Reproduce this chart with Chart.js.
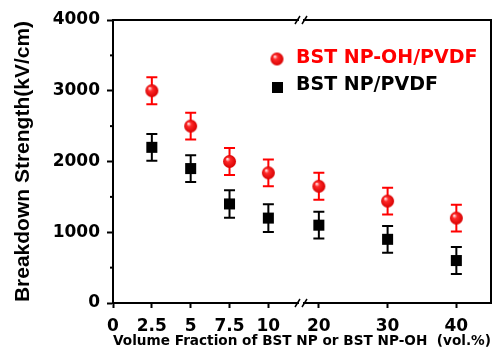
<!DOCTYPE html>
<html>
<head>
<meta charset="utf-8">
<script src="https://cdn.jsdelivr.net/npm/chart.js@4.4.1/dist/chart.umd.min.js"></script>
<style>
    html, body { margin: 0; padding: 0; background: #fff; }
</style>
</head>
<body>
<canvas id="myChart" width="499" height="349"></canvas>
<script>
// data
const fractions = [2.5, 5, 7.5, 10, 20, 30, 40];
const ohValues = [3000, 2500, 2000, 1840, 1650, 1440, 1200];
const ohErrors = [190, 190, 190, 190, 190, 190, 190];
const npValues = [2200, 1900, 1400, 1200, 1100, 900, 600];
const npErrors = [190, 190, 195, 195, 190, 190, 190];
const xTickLabels = [0, 2.5, 5, 7.5, 10, 20, 30, 40];
const seriesNames = ['BST NP-OH/PVDF', 'BST NP/PVDF'];

// broken x axis: 0-10 at full scale, 20-40 compressed
const breakAt = 10, resumeAt = 20, resumePos = 13.25, squeeze = 0.4425;
function toAxis(v) {
    return v <= breakAt ? v : resumePos + (v - resumeAt) * squeeze;
}

// shaded red ball used as the point style
function makeBall(r) {
    const c = document.createElement('canvas');
    c.width = c.height = r * 2 + 2;
    const g = c.getContext('2d');
    const m = r + 1;
    const grad = g.createRadialGradient(m - r * 0.35, m - r * 0.4, 0.5, m, m, r);
    grad.addColorStop(0, '#ffe0e0');
    grad.addColorStop(0.3, '#ff2a2a');
    grad.addColorStop(1, '#d80000');
    g.fillStyle = grad;
    g.beginPath();
    g.arc(m, m, r, 0, Math.PI * 2);
    g.fill();
    return c;
}
const ball = makeBall(6.5);

const data = {
    datasets: [{
        label: seriesNames[0],
        data: fractions.map((f, i) => ({x: toAxis(f), y: ohValues[i]})),
        errors: ohErrors,
        barColor: '#ff0000',
        pointStyle: ball,
        pointRadius: 7,
        showLine: false
    }, {
        label: seriesNames[1],
        data: fractions.map((f, i) => ({x: toAxis(f), y: npValues[i]})),
        errors: npErrors,
        barColor: '#000000',
        pointStyle: 'rect',
        pointRadius: 7.8,
        backgroundColor: '#000',
        borderColor: '#000',
        borderWidth: 0,
        showLine: false
    }]
};

const extras = {
    id: 'extras',
    beforeDatasetsDraw(chart) {
        const ctx = chart.ctx;
        const ys = chart.scales.y, xs = chart.scales.x;
        ctx.save();
        ctx.lineWidth = 2;
        chart.data.datasets.forEach(ds => {
            ctx.strokeStyle = ds.barColor;
            ds.data.forEach((p, i) => {
                const x = xs.getPixelForValue(p.x);
                const top = ys.getPixelForValue(p.y + ds.errors[i]);
                const bot = ys.getPixelForValue(p.y - ds.errors[i]);
                ctx.beginPath();
                ctx.moveTo(x, top); ctx.lineTo(x, bot);
                ctx.moveTo(x - 5.5, top); ctx.lineTo(x + 5.5, top);
                ctx.moveTo(x - 5.5, bot); ctx.lineTo(x + 5.5, bot);
                ctx.stroke();
            });
        });
        ctx.restore();
    },
    afterDraw(chart) {
        const ctx = chart.ctx;
        const a = chart.chartArea;
        const ys = chart.scales.y, xs = chart.scales.x;
        ctx.save();
        ctx.strokeStyle = '#000';
        ctx.lineWidth = 2;
        // top and right frame
        ctx.beginPath();
        ctx.moveTo(a.left, a.top); ctx.lineTo(a.right, a.top); ctx.lineTo(a.right, a.bottom);
        ctx.stroke();
        // minor y ticks
        for (let v = 500; v < 4000; v += 1000) {
            const y = ys.getPixelForValue(v);
            ctx.beginPath();
            ctx.moveTo(a.left - 3, y); ctx.lineTo(a.left, y);
            ctx.stroke();
        }
        // break marks
        const bx = xs.getPixelForValue(12.1);
        [a.top, a.bottom].forEach(y => {
            ctx.fillStyle = '#fff';
            ctx.fillRect(bx - 2, y - 2, 4, 4);
            ctx.lineWidth = 1.5;
            ctx.beginPath();
            ctx.moveTo(bx - 6, y + 4); ctx.lineTo(bx - 1, y - 4);
            ctx.moveTo(bx + 1, y + 4); ctx.lineTo(bx + 6, y - 4);
            ctx.stroke();
        });
        // legend
        ctx.font = 'bold 19px "DejaVu Sans"';
        ctx.textBaseline = 'middle';
        ctx.drawImage(ball, a.left + 164 - ball.width / 2, a.top + 39 - ball.height / 2);
        ctx.fillStyle = '#ff0000';
        ctx.fillText(seriesNames[0], a.left + 183, a.top + 38);
        ctx.fillStyle = '#000';
        ctx.fillRect(a.left + 159, a.top + 62, 11, 11);
        ctx.fillText(seriesNames[1], a.left + 183, a.top + 65);
        ctx.restore();
    }
};

const config = {
    type: 'scatter',
    data: data,
    options: {
        responsive: false,
        animation: false,
        layout: {padding: {top: 20, right: 4, left: 0, bottom: 0}},
        plugins: {legend: {display: false}, tooltip: {enabled: false}},
        scales: {
            x: {
                type: 'linear',
                min: 0,
                max: 24.33,
                afterBuildTicks(scale) {
                    scale.ticks = xTickLabels.map(v => ({value: toAxis(v)}));
                },
                afterFit(scale) { scale.height = 46; },
                ticks: {
                    callback: (v, i) => String(xTickLabels[i]),
                    color: '#000',
                    font: {family: 'DejaVu Sans', weight: 'bold', size: 17},
                    padding: 8,
                    maxRotation: 0,
                    autoSkip: false
                },
                grid: {display: true, drawOnChartArea: false, drawTicks: true, tickLength: 5, tickColor: '#000', tickWidth: 2},
                border: {display: true, color: '#000', width: 2},
                title: {
                    display: true,
                    text: 'Volume Fraction of BST NP or BST NP-OH  (vol.%)',
                    color: '#000',
                    font: {family: 'DejaVu Sans', weight: 'bold', size: 14.7, lineHeight: 1.1},
                    padding: {top: 0, bottom: 0}
                }
            },
            y: {
                min: 0,
                max: 4000,
                afterFit(scale) { scale.width = 113; },
                ticks: {
                    stepSize: 1000,
                    callback: v => String(v),
                    color: '#000',
                    font: {family: 'DejaVu Sans', weight: 'bold', size: 17},
                    padding: 7
                },
                grid: {display: true, drawOnChartArea: false, drawTicks: true, tickLength: 6, tickColor: '#000', tickWidth: 2},
                border: {display: true, color: '#000', width: 2},
                title: {
                    display: true,
                    text: 'Breakdown Strength(kV/cm)',
                    color: '#000',
                    font: {family: 'Liberation Sans', weight: 'bold', size: 21, lineHeight: 1.1},
                    padding: {top: 12, bottom: 0}
                }
            }
        }
    },
    plugins: [extras]
};

window.onload = function () {
    const ctx = document.getElementById('myChart').getContext('2d');
    new Chart(ctx, config);
};
</script>
</body>
</html>
